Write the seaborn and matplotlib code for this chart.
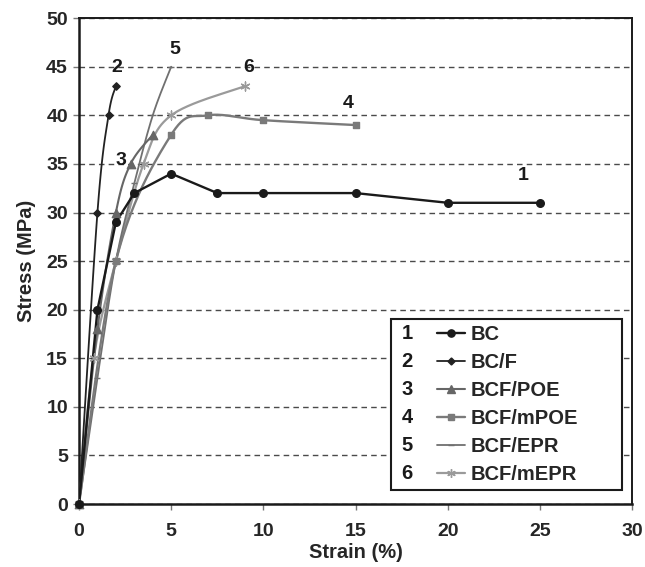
import numpy as np
import matplotlib
matplotlib.use("Agg")
import matplotlib.pyplot as plt
import seaborn as sns
from matplotlib.lines import Line2D
from matplotlib.patches import Rectangle
from matplotlib.legend_handler import HandlerLine2D
from matplotlib.text import Text

sns.set_style("ticks")
plt.rcParams["font.family"] = ["Liberation Sans", "DejaVu Sans"]
plt.rcParams["font.weight"] = "bold"
plt.rcParams["axes.labelweight"] = "bold"

# Stress-strain data (strain in %, stress in MPa)
strain_bc = [0, 1, 2, 3, 5, 7.5, 10, 15, 20, 25]
stress_bc = [0, 20, 29, 32, 34, 32, 32, 32, 31, 31]

strain_bcf = [0, 1, 1.6, 2]
stress_bcf = [0, 30, 40, 43]

strain_poe = [0, 1, 2, 2.8, 4]
stress_poe = [0, 18, 30, 35, 38]

strain_mpoe = [0, 2, 5, 7, 10, 15]
stress_mpoe = [0, 25, 38, 40, 39.5, 39]

strain_epr = [0, 1, 2, 3, 4, 5]
stress_epr = [0, 13, 25, 33, 40, 45]

strain_mepr = [0, 0.8, 2, 3.5, 5, 9]
stress_mepr = [0, 15, 25, 35, 40, 43]

names = ["BC", "BC/F", "BCF/POE", "BCF/mPOE", "BCF/EPR", "BCF/mEPR"]
numbers = ["1", "2", "3", "4", "5", "6"]

# curve-end label positions (strain, stress)
label_x = [24.1, 2.05, 2.3, 14.6, 5.2, 9.2]
label_y = [33.8, 44.9, 35.4, 41.2, 46.8, 44.9]

series = [
    (strain_bc, stress_bc, "#1a1a1a", "o", 30, 1.7, False),
    (strain_bcf, stress_bcf, "#222222", "D", 14, 1.3, True),
    (strain_poe, stress_poe, "#666666", "^", 36, 1.5, True),
    (strain_mpoe, stress_mpoe, "#7a7a7a", "s", 22, 1.7, True),
    (strain_epr, stress_epr, "#707070", "_", 16, 1.3, True),
    (strain_mepr, stress_mepr, "#9a9a9a", (6, 2, 0), 42, 1.6, True),
]


def smooth_curve(xs, ys, sx=18.43, sy=9.72, n=30):
    """Bezier smoothing through the data points, computed in screen proportions."""
    P = np.column_stack([np.asarray(xs, float) * sx, np.asarray(ys, float) * sy])
    pts = []
    for i in range(len(P) - 1):
        p0 = P[i - 1] if i > 0 else P[i]
        p1, p2 = P[i], P[i + 1]
        p3 = P[i + 2] if i + 2 < len(P) else P[i + 1]
        c1 = p1 + (p2 - p0) / 6.0
        c2 = p2 - (p3 - p1) / 6.0
        t = np.linspace(0, 1, n)[:, None]
        seg = ((1 - t) ** 3) * p1 + 3 * ((1 - t) ** 2) * t * c1 \
            + 3 * (1 - t) * (t ** 2) * c2 + (t ** 3) * p2
        pts.append(seg if i == len(P) - 2 else seg[:-1])
    pts = np.vstack(pts)
    return pts[:, 0] / sx, pts[:, 1] / sy


fig = plt.figure(figsize=(6.45, 5.67), dpi=100)
ax = fig.add_axes([0.1225, 0.111, 0.8575, 0.857])

# dashed horizontal gridlines
ax.grid(axis="y", linestyle=(0, (4, 3)), color="#4a4a4a", linewidth=1.0)
ax.grid(axis="x", visible=False)

order = [5, 4, 3, 2, 1, 0]
for k in order:
    xs, ys, col, mk, ms, lw, smooth = series[k]
    if smooth:
        cx, cy = smooth_curve(xs, ys)
    else:
        cx, cy = np.asarray(xs, float), np.asarray(ys, float)
    sns.lineplot(x=cx, y=cy, sort=False, estimator=None, color=col,
                 linewidth=lw, ax=ax, zorder=3 + (5 - k) * 0.1)
    sns.scatterplot(x=xs, y=ys, marker=mk, s=ms, color=col, edgecolor=col,
                    linewidth=1.0, ax=ax, zorder=4 + (5 - k) * 0.1,
                    clip_on=False, legend=False)

for k in range(6):
    ax.text(label_x[k], label_y[k], numbers[k], ha="center", va="center",
            fontsize=14, fontweight="bold", color="#1a1a1a", zorder=6)

ax.set_xlim(0, 30)
ax.set_ylim(0, 50)
ax.set_xticks(range(0, 31, 5))
ax.set_yticks(range(0, 51, 5))
ax.set_xlabel("Strain (%)", fontsize=14.5, fontweight="bold", labelpad=2)
ax.set_ylabel("Stress (MPa)", fontsize=14.5, fontweight="bold", labelpad=7)
ax.tick_params(direction="out", length=4.5, width=1, color="#777777",
               labelsize=14)
ax.tick_params(axis="x", pad=9)
ax.tick_params(axis="y", pad=3.5)
for lab in ax.get_xticklabels() + ax.get_yticklabels():
    lab.set_fontweight("bold")

for side in ["left", "bottom"]:
    ax.spines[side].set_linewidth(1.8)
    ax.spines[side].set_color("#1a1a1a")
for side in ["top", "right"]:
    ax.spines[side].set_visible(True)
    ax.spines[side].set_linewidth(1.4)
    ax.spines[side].set_color("#1a1a1a")


class NumberedHandler(HandlerLine2D):
    """Legend handle that prints the curve number before the line sample."""

    def __init__(self, num, frac=0.56, **kw):
        super().__init__(**kw)
        self.num = num
        self.frac = frac

    def create_artists(self, legend, orig_handle, xdescent, ydescent,
                       width, height, fontsize, trans):
        numw = width * self.frac
        arts = super().create_artists(legend, orig_handle, xdescent - numw,
                                      ydescent, width - numw, height,
                                      fontsize, trans)
        txt = Text(-xdescent, (height - ydescent) / 2 - 0.5, self.num,
                   ha="left", va="center", fontsize=fontsize,
                   fontweight="bold", color="#1a1a1a", transform=trans)
        return [txt] + list(arts)


# legend box
ax.add_patch(Rectangle((16.91, 1.44), 29.45 - 16.91, 19.03 - 1.44,
                       facecolor="white", edgecolor="#1a1a1a", linewidth=1.5,
                       zorder=9, clip_on=False))

handles = []
for xs, ys, col, mk, ms, lw, smooth in series:
    handles.append(Line2D([], [], color=col, marker=mk,
                          markersize=np.sqrt(ms) * 0.95, linewidth=lw,
                          markeredgecolor=col, markerfacecolor=col))
hmap = {h: NumberedHandler(numbers[i]) for i, h in enumerate(handles)}
leg = ax.legend(handles, names, handler_map=hmap, loc="upper left",
                bbox_to_anchor=(0.5835, 0.3687), frameon=False,
                handlelength=3.15, handletextpad=0.25, labelspacing=0.45,
                borderpad=0.0, borderaxespad=0.0,
                prop={"weight": "bold", "size": 14.5})
leg.set_zorder(10)

fig.savefig("out.png", dpi=100)
